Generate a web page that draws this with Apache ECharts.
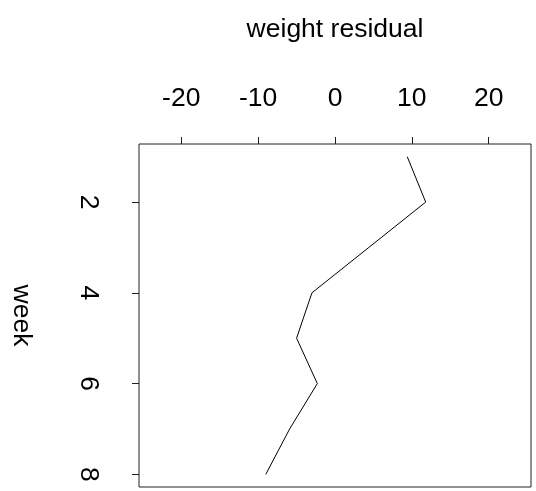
<!DOCTYPE html>
<html>
<head>
<meta charset="utf-8">
<script src="https://cdn.jsdelivr.net/npm/echarts@6/dist/echarts.min.js"></script>
<style>
  html, body { margin: 0; padding: 0; background: #fff; }
  #chart { width: 536px; height: 491px; }
</style>
</head>
<body>
<div id="chart"></div>
<script>
// weekly weight residuals, drawn with week running down the page
const weeks = [1, 2, 3, 4, 5, 6, 7, 8];
const residuals = [9.4, 11.8, 4.4, -3.0, -5.0, -2.3, -5.9, -9.0];
const residualTicks = [-20, -10, 0, 10, 20];
const weekTicks = [2, 4, 6, 8];

const FONT = '"Liberation Sans", Arial, sans-serif';
const FS = 26.5;

const chart = echarts.init(document.getElementById('chart'), null, { renderer: 'canvas' });

chart.setOption({
  animation: false,
  backgroundColor: '#ffffff',
  grid: {
    left: 139, top: 144, width: 392, height: 343,
    outerBoundsMode: 'none',
    containLabel: false,
    show: true, borderColor: '#222', borderWidth: 1, backgroundColor: 'transparent'
  },
  xAxis: {
    type: 'value',
    position: 'top',
    min: -25.5, max: 25.5,
    name: 'weight residual',
    nameLocation: 'middle',
    nameGap: 101,
    nameTextStyle: { fontFamily: FONT, fontSize: FS, color: '#000' },
    axisLine: { show: false, onZero: false },
    splitLine: { show: false },
    axisTick: {
      show: true, inside: false, length: 7,
      customValues: residualTicks,
      lineStyle: { color: '#222', width: 1 }
    },
    axisLabel: {
      show: true, margin: 32,
      customValues: residualTicks,
      fontFamily: FONT, fontSize: FS, color: '#000'
    }
  },
  yAxis: {
    type: 'value',
    position: 'left',
    inverse: true,
    min: 0.72, max: 8.28,
    name: 'week',
    nameLocation: 'middle',
    nameRotate: -90,
    nameGap: 104,
    nameTextStyle: { fontFamily: FONT, fontSize: FS, color: '#000' },
    axisLine: { show: false, onZero: false },
    splitLine: { show: false },
    axisTick: {
      show: true, inside: false, length: 7,
      customValues: weekTicks,
      lineStyle: { color: '#222', width: 1 }
    },
    axisLabel: {
      show: true, margin: 37, rotate: -90,
      customValues: weekTicks,
      fontFamily: FONT, fontSize: FS, color: '#000'
    }
  },
  series: [{
    type: 'line',
    data: weeks.map((w, i) => [residuals[i], w]),
    showSymbol: false,
    symbol: 'none',
    lineStyle: { color: '#000', width: 1 },
    silent: true
  }]
});
</script>
</body>
</html>
